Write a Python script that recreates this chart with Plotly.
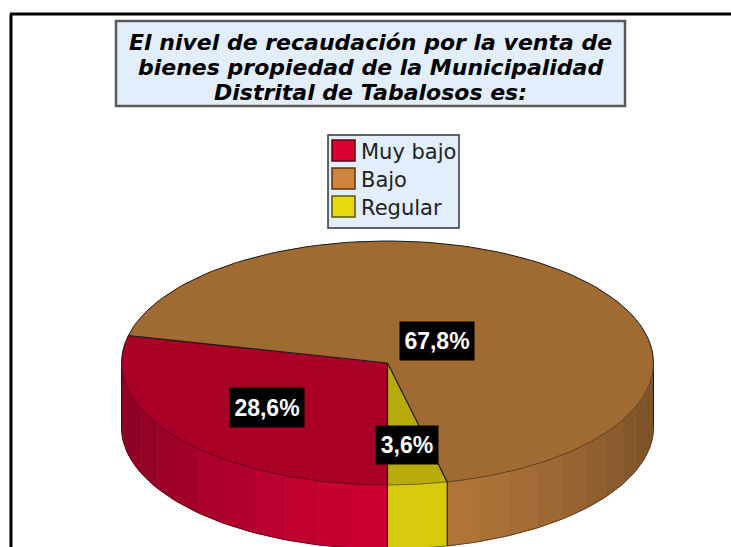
import numpy as np
import plotly.graph_objects as go

categories = ["Muy bajo", "Bajo", "Regular"]
percents = [28.6, 67.8, 3.6]
percent_labels = ["28,6%", "67,8%", "3,6%"]

top_colors = ["#AA0028", "#A06A33", "#B9AC0A"]
side_colors = ["#CC0033", "#B87A3C", "#D9CC0C"]
legend_colors = ["#DC0030", "#CC843F", "#E6D90E"]

title_lines = [
    "El nivel de recaudación por la venta de",
    "bienes propiedad de la Municipalidad",
    "Distrital de Tabalosos es:",
]

# pie geometry in page pixels
CX, CY = 387.5, 363
RX, RY = 266, 122
DEPTH = 64
FONT = "Liberation Sans"
WIDE_FONT = "DejaVu Sans"


def rim(angle):
    # angle in degrees, clockwise from the front of the pie
    a = np.radians(angle)
    return CX - RX * np.sin(a), CY + RY * np.cos(a)


def shade(color, factor):
    rgb = [int(color[i:i + 2], 16) for i in (1, 3, 5)]
    return "rgb({},{},{})".format(*[int(c * factor) for c in rgb])


def wall_factor(angle):
    # side wall gets darker towards the left and right ends
    return 1 - 0.32 * abs(np.sin(np.radians(angle))) ** 1.6


def add_line(fig, x, y, color, width=1):
    fig.add_trace(go.Scatter(
        x=x, y=y, mode="lines",
        line=dict(color=color, width=width),
        hoverinfo="skip", showlegend=False,
    ))


fig = go.Figure()

# slices run clockwise from the front: Muy bajo, Bajo, Regular
edges = np.cumsum([0] + percents) * 3.6

# side wall, only the part facing the viewer
for i in range(3):
    lo, hi = edges[i], edges[i + 1]
    visible = []
    if lo < 90:
        visible.append((lo, min(hi, 90)))
    if hi > 270:
        visible.append((max(lo, 270), hi))
    for start, end in visible:
        steps = max(int((end - start) / 7), 1)
        bands = np.linspace(start, end, steps + 1)
        for b0, b1 in zip(bands[:-1], bands[1:]):
            x, y = rim(np.linspace(b0, b1, 12))
            color = shade(side_colors[i], wall_factor((b0 + b1) / 2))
            fig.add_trace(go.Scatter(
                x=np.r_[x, x[::-1]],
                y=np.r_[y, y[::-1] + DEPTH],
                fill="toself",
                mode="lines",
                line=dict(width=1, color=color),
                fillcolor=color,
                hoverinfo="skip",
                showlegend=False,
            ))
        x, y = rim(np.linspace(start, end, 60))
        add_line(fig, x, y + DEPTH, shade(side_colors[i], 0.55))
        add_line(fig, [x[0], x[0]], [y[0], y[0] + DEPTH], "#1a1a1a")
        add_line(fig, [x[-1], x[-1]], [y[-1], y[-1] + DEPTH], "#1a1a1a")

# top face
for i in range(3):
    x, y = rim(np.linspace(edges[i], edges[i + 1], 160))
    fig.add_trace(go.Scatter(
        x=np.r_[CX, x, CX],
        y=np.r_[CY, y, CY],
        fill="toself",
        mode="none",
        fillcolor=top_colors[i],
        hoverinfo="skip",
        showlegend=False,
    ))

# rim: black at the back, soft at the front
for i in range(3):
    lo, hi = edges[i], edges[i + 1]
    parts = [(lo, min(hi, 90), True), (max(lo, 90), min(hi, 270), False),
             (max(lo, 270), hi, True)]
    for start, end, front in parts:
        if end <= start:
            continue
        x, y = rim(np.linspace(start, end, 80))
        add_line(fig, x, y, shade(top_colors[i], 0.6) if front else "#1a1a1a")
    x0, y0 = rim(lo)
    add_line(fig, [CX, x0], [CY, y0], "#1a1a1a", 1.2)

# value labels
label_pos = [(267, 407.5), (437, 340.5), (407, 444.5)]
label_size = [(72, 37), (72, 36), (60, 36)]
for text, (lx, ly), (w, h) in zip(percent_labels, label_pos, label_size):
    fig.add_annotation(
        x=lx, y=ly, text=f"<b>{text}</b>", showarrow=False,
        width=w, height=h, bgcolor="black", align="center", valign="middle",
        font=dict(family=FONT, size=23, color="white"),
    )

# frame, title box, legend box
shapes = [
    dict(type="line", x0=10, x1=731, y0=14, y1=14,
         line=dict(color="black", width=3)),
    dict(type="line", x0=11, x1=11, y0=14, y1=547,
         line=dict(color="black", width=3)),
    dict(type="rect", x0=116, x1=625, y0=21, y1=106, fillcolor="#E2EEFB",
         line=dict(color="#5a5a5a", width=2.5)),
    dict(type="rect", x0=328, x1=459, y0=135, y1=228, fillcolor="#E2EEFB",
         line=dict(color="#333333", width=1.5)),
]

# title lines sit closer than the 1.3 line height plotly gives a <br>
for i, line in enumerate(title_lines):
    fig.add_annotation(
        x=370.5, y=42 + 25 * i, text=f"<b><i>{line}</i></b>", showarrow=False,
        font=dict(family=WIDE_FONT, size=22, color="black"),
    )

for i, (name, color) in enumerate(zip(categories, legend_colors)):
    row = 150.5 + 28 * i
    shapes.append(dict(type="rect", x0=332, x1=355, y0=row - 10.5, y1=row + 10.5,
                       fillcolor=color, line=dict(color=shade(color, 0.4), width=1.5)))
    fig.add_annotation(
        x=359, y=row + 1, text=name, showarrow=False, xanchor="left",
        font=dict(family=WIDE_FONT, size=21, color="#222222"),
    )

fig.update_layout(
    width=731,
    height=547,
    margin=dict(l=0, r=0, t=0, b=0),
    paper_bgcolor="white",
    plot_bgcolor="white",
    xaxis=dict(range=[0, 731], visible=False, fixedrange=True),
    yaxis=dict(range=[547, 0], visible=False, fixedrange=True),
    showlegend=False,
    shapes=shapes,
)

fig.write_html("out.html", config=dict(displayModeBar=False),
               post_script="document.body.style.margin='0';")
